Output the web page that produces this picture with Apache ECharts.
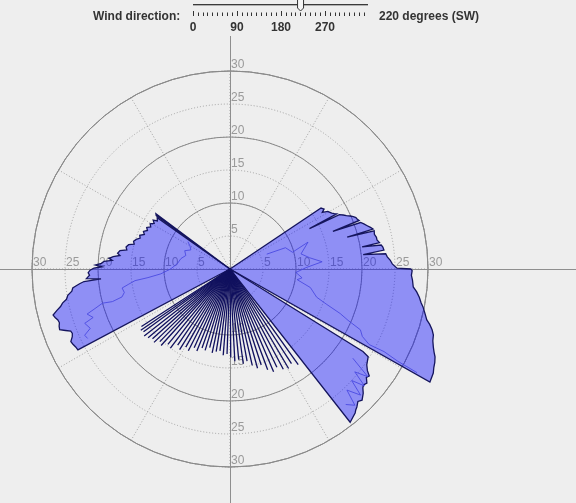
<!DOCTYPE html>
<html><head><meta charset="utf-8">
<script src="https://cdn.jsdelivr.net/npm/echarts@6/dist/echarts.min.js"></script>
<style>html,body{margin:0;padding:0;background:#eeeeee;overflow:hidden}#c{width:576px;height:503px}</style>
</head><body><div id="c"></div>
<script>
// ---- slider ----
const sliderTickLabels = [0, 90, 180, 270];
const sliderMinorTicks = [0,10,20,30,40,50,60,70,80,90,100,110,120,130,140,150,160,170,180,190,200,210,220,230,240,250,260,270,280,290,300,310,320,330,340,350];
const directionValue = 220;
const directionTitle = 'Wind direction:';
const directionText = '220 degrees (SW)';

// ---- polar axis labels ----
const radiusTicks = [5, 10, 15, 20, 25, 30];
const labelAngles = [0, 90, 180, 270];

// ---- data: [angle (deg, counter-clockwise from east), wind speed] ----
const sliverA = [[143.3,14.0],[144.1,13.8]];
const sectorA = [[144.8,13.5],[146.5,13.2],[147.5,13.8],[149,13.4],[150.5,13.9],[152,13.6],[153.5,14.1],[155,13.8],[156.5,14.3],[158,14.0],[159.5,14.6],[161,14.4],[162.5,14.9],[164,15.2],[165.5,15.0],[166.5,15.8],[168,16.1],[169.5,15.9],[170.5,16.9],[172,17.2],[173,16.8],[174,17.8],[175,18.4],[175.8,17.9],[176.5,19.1],[177.5,19.5],[178.3,20.4],[179,19.4],[179.6,20.6],[180.5,21.2],[181.5,21.5],[182.5,21.3],[183.8,21.8],[184.4,19.6],[184.9,22.2],[185.6,22.9],[186.3,23.5],[186.9,24.0],[188,24.2],[189.2,24.9],[190.5,25.2],[191.5,25.9],[192.5,26.3],[193.5,27.0],[194.6,27.7],[195.5,27.5],[196.5,27.2],[197.5,27.1],[198.5,27.3],[199.6,27.4],[200.5,26.6],[201.3,25.9],[202.2,25.8],[203.2,26.0],[204.5,26.5],[205.5,26.4],[206.8,26.2],[208,26.1]];
const sectorB = [[33.8,16.6],[32.5,16.9],[31.5,16.4],[30.5,17.2],[29.5,17.4],[28.8,17.6],[28,17.9],[27.3,18.2],[26.9,13.5],[26.4,18.5],[25.5,19.0],[24.6,19.4],[23.8,19.9],[23,20.3],[22.2,20.6],[21.5,20.7],[20.6,20.9],[20.1,16.6],[19.6,21.0],[18.6,21.4],[17.5,21.8],[16.5,22.2],[15.6,22.5],[15.2,18.4],[14.8,22.6],[13.5,22.5],[12.2,22.7],[11.2,22.7],[10,23.0],[9.5,20.3],[9.0,23.2],[8.2,23.4],[7,23.5],[6.2,20.3],[5.6,23.7],[4.4,23.9],[3.2,24.3],[1.8,24.6],[0.3,25.3],[0,27.4],[-0.5,27.6],[-2,27.5],[-3.5,27.7],[-5.6,27.9],[-7,28.5],[-8.5,29.0],[-10,29.4],[-11.1,29.8],[-12.5,30.2],[-14.5,30.8],[-15.5,31.4],[-16.8,32.0],[-18,32.4],[-19.5,32.6],[-21,33.0],[-22.2,33.4],[-23.2,33.8],[-24.5,34.1],[-25.8,34.3],[-27.1,34.6],[-28.3,34.7],[-29.5,34.8]];
const sectorC = [[-31.8,23.7],[-32.4,24.8],[-34,25.1],[-35,25.3],[-36.5,25.9],[-37.5,26.6],[-38.5,26.4],[-39.8,27.0],[-41,26.8],[-41.8,27.0],[-43,27.6],[-44.8,28.2],[-46,27.9],[-47.4,28.4],[-48.2,28.6],[-49,28.9],[-50.5,29.2],[-51.9,29.5]];
const innerA = [[147,7.6],[150,7.0],[154,6.6],[158,7.4],[163,7.0],[168,7.6],[174,8.0],[180,9.0],[184,10.5],[186,12.5],[187,14.5],[188.5,15.5],[190,16.6],[192.5,16.4],[194.5,16.9],[195.5,18.5],[195,20.0],[196.5,21.5],[197.5,22.7],[199.5,22.0],[200.5,23.5],[203,23.0],[204.5,24.2],[206,24.0]];
const innerB = [[22,6.0],[21,9.0],[15,9.8],[19,12.5],[12,11.0],[8,12.2],[4.5,14.0],[1,11.5],[-3,10.0],[-7,11.0],[-9,10.3],[-13,12.5],[-18,13.8],[-20,15.5],[-22,18.0],[-23.5,19.5],[-25,21.8],[-27,22.5],[-28.5,24.0],[-28.2,26.5],[-28.8,29.0],[-29.0,32.4]];
const innerC = [[-36,23.0],[-38,26.5],[-39.5,24.5],[-41,27.0],[-42.5,25.0],[-44,27.5],[-46,25.5],[-47.5,28.0],[-49.5,27.0]];
const spokes = [[213,16.0],[214.5,16.4],[216,16.2],[218,16.5],[220,16.2],[222,15.8],[224,16.0],[226,15.3],[228,15.6],[230.5,14.8],[233,15.0],[235.5,14.0],[238,14.4],[240.5,13.6],[243,13.9],[245.5,13.1],[248,13.4],[250.5,12.7],[253,12.9],[255.5,12.3],[258,13.0],[260.5,12.7],[263,12.5],[265.5,13.1],[268,12.9],[270.5,13.4],[273,14.0],[275.5,13.8],[278,14.5],[280.5,14.2],[283,15.0],[285.5,15.6],[288,15.3],[290.5,16.3],[293,16.9],[295.5,16.5],[298,17.2],[300.5,17.5],[303,17.1],[305.5,17.8]];

const FILL = 'rgba(0,0,255,0.4)';
const EDGE = '#15155e';
const FONT = '"Liberation Sans", Arial, sans-serif';
const norm = a => ((a % 360) + 360) % 360;

const chart = echarts.init(document.getElementById('c'), null, {renderer: 'canvas'});

const polygons = [sliverA, sectorA, sectorB, sectorC];
const innerLines = [innerA, innerB, innerC];

const labelData = [];
labelAngles.forEach(a => radiusTicks.forEach(r => labelData.push([r, a])));

const polarCommon = {center: [230, 269], radius: 198};
const angleCommon = {type: 'value', min: 0, max: 360, startAngle: 0, clockwise: false,
  axisTick: {show: false}, axisLabel: {show: false}};
const radiusCommon = {type: 'value', min: 0, max: 30, axisLine: {show: false},
  axisTick: {show: false}, axisLabel: {show: false}};

chart.setOption({
  backgroundColor: '#eeeeee',
  animation: false,
  polar: [Object.assign({}, polarCommon), Object.assign({}, polarCommon)],
  angleAxis: [
    Object.assign({}, angleCommon, {polarIndex: 0, interval: 30, axisLine: {show: false},
      splitLine: {show: true, lineStyle: {color: '#a2a2a2', type: [1, 2], width: 1}}}),
    Object.assign({}, angleCommon, {polarIndex: 1, interval: 90,
      axisLine: {show: true, lineStyle: {color: '#8a8a8a', width: 1}}, splitLine: {show: false}})
  ],
  radiusAxis: [
    Object.assign({}, radiusCommon, {polarIndex: 0, interval: 5,
      splitLine: {show: true, lineStyle: {color: '#a2a2a2', type: [1, 2], width: 1}}}),
    Object.assign({}, radiusCommon, {polarIndex: 1, interval: 10,
      splitLine: {show: true, lineStyle: {color: '#8a8a8a', width: 1}}})
  ],
  grid: [{left: 193, width: 176, top: 0, height: 16, show: false}],
  xAxis: [
    {gridIndex: 0, type: 'value', min: 0, max: 360, position: 'bottom',
      axisLine: {show: false}, splitLine: {show: false}, axisLabel: {show: false},
      axisTick: {show: true, inside: true, length: 3.5, customValues: sliderMinorTicks, lineStyle: {color: '#333', width: 1}}},
    {gridIndex: 0, type: 'value', min: 0, max: 360, position: 'bottom', offset: 0,
      axisLine: {show: false}, splitLine: {show: false},
      axisTick: {show: true, inside: true, length: 5, customValues: sliderTickLabels, lineStyle: {color: '#333', width: 1}},
      axisLabel: {show: true, customValues: sliderTickLabels, margin: 6, fontSize: 12, fontWeight: 'bold', color: '#333', fontFamily: FONT}}
  ],
  yAxis: [{gridIndex: 0, type: 'value', show: false}],
  graphic: [
    {id: 'hline', type: 'line', z: 1, shape: {x1: 0, y1: 269.5, x2: 576, y2: 269.5}, style: {stroke: '#8e8e8e', lineWidth: 1}},
    {id: 'vline', type: 'line', z: 1, shape: {x1: 230.5, y1: 36, x2: 230.5, y2: 503}, style: {stroke: '#8e8e8e', lineWidth: 1}},
    {id: 'track1', type: 'line', shape: {x1: 193, y1: 4.5, x2: 368, y2: 4.5}, style: {stroke: '#3a3a3a', lineWidth: 1}},
    {id: 'track2', type: 'line', shape: {x1: 193, y1: 5.5, x2: 368, y2: 5.5}, style: {stroke: '#b0b0b0', lineWidth: 1}},
    {id: 'title', type: 'text', style: {text: directionTitle, x: 93, y: 17, font: 'bold 12px ' + FONT, fill: '#333', align: 'left', verticalAlign: 'middle'}},
    {id: 'value', type: 'text', style: {text: directionText, x: 379, y: 17, font: 'bold 12px ' + FONT, fill: '#333', align: 'left', verticalAlign: 'middle'}}
  ],
  series: [
    {
      type: 'scatter', coordinateSystem: 'polar', polarIndex: 0, z: 2,
      data: labelData, symbolSize: 0.01, itemStyle: {color: 'rgba(0,0,0,0)'},
      silent: true,
      label: {show: true, position: 'right', distance: 1, verticalAlign: 'bottom',
        formatter: p => String(p.value[0]), color: '#858585', fontSize: 12, fontFamily: FONT}
    },
    {
      type: 'custom', coordinateSystem: 'polar', polarIndex: 0, z: 5, silent: true,
      data: polygons.map((p, i) => [0, i]),
      renderItem: (params, api) => {
        const pts = polygons[params.dataIndex];
        const coords = [api.coord([0, 0])];
        pts.forEach(p => coords.push(api.coord([p[1], norm(p[0])])));
        return {type: 'polygon', shape: {points: coords},
          style: {fill: FILL, stroke: EDGE, lineWidth: 1.3, lineJoin: 'miter'}};
      }
    },
    {
      type: 'custom', coordinateSystem: 'polar', polarIndex: 0, z: 6, silent: true,
      data: innerLines.map((p, i) => [0, i]),
      renderItem: (params, api) => {
        const pts = innerLines[params.dataIndex];
        return {type: 'polyline', shape: {points: pts.map(p => api.coord([p[1], norm(p[0])]))},
          style: {fill: null, stroke: 'rgba(70,70,225,0.85)', lineWidth: 1}};
      }
    },
    {
      type: 'custom', coordinateSystem: 'polar', polarIndex: 0, z: 7, silent: true,
      data: spokes.map(s => [s[1], norm(s[0])]),
      renderItem: (params, api) => {
        const c0 = api.coord([0, 0]);
        const c1 = api.coord([api.value(0), api.value(1)]);
        return {type: 'line', shape: {x1: c0[0], y1: c0[1], x2: c1[0], y2: c1[1]},
          style: {stroke: '#10105e', lineWidth: 1.3}};
      }
    }
  ]
});

// slider thumb placed through the slider axis scale
let tx = chart.convertToPixel({xAxisIndex: 1}, directionValue);
if (Array.isArray(tx)) tx = tx[0];
if (!isFinite(tx)) tx = chart.convertToPixel({gridIndex: 0}, [directionValue, 0])[0];
chart.setOption({graphic: [
  {id: 'thumb', type: 'polygon', z: 10, shape: {points: [[tx - 3, -1], [tx + 3, -1], [tx + 3, 8], [tx, 11], [tx - 3, 8]]},
    style: {fill: '#f6f6f6', stroke: '#333', lineWidth: 1}}
]});
</script></body></html>
